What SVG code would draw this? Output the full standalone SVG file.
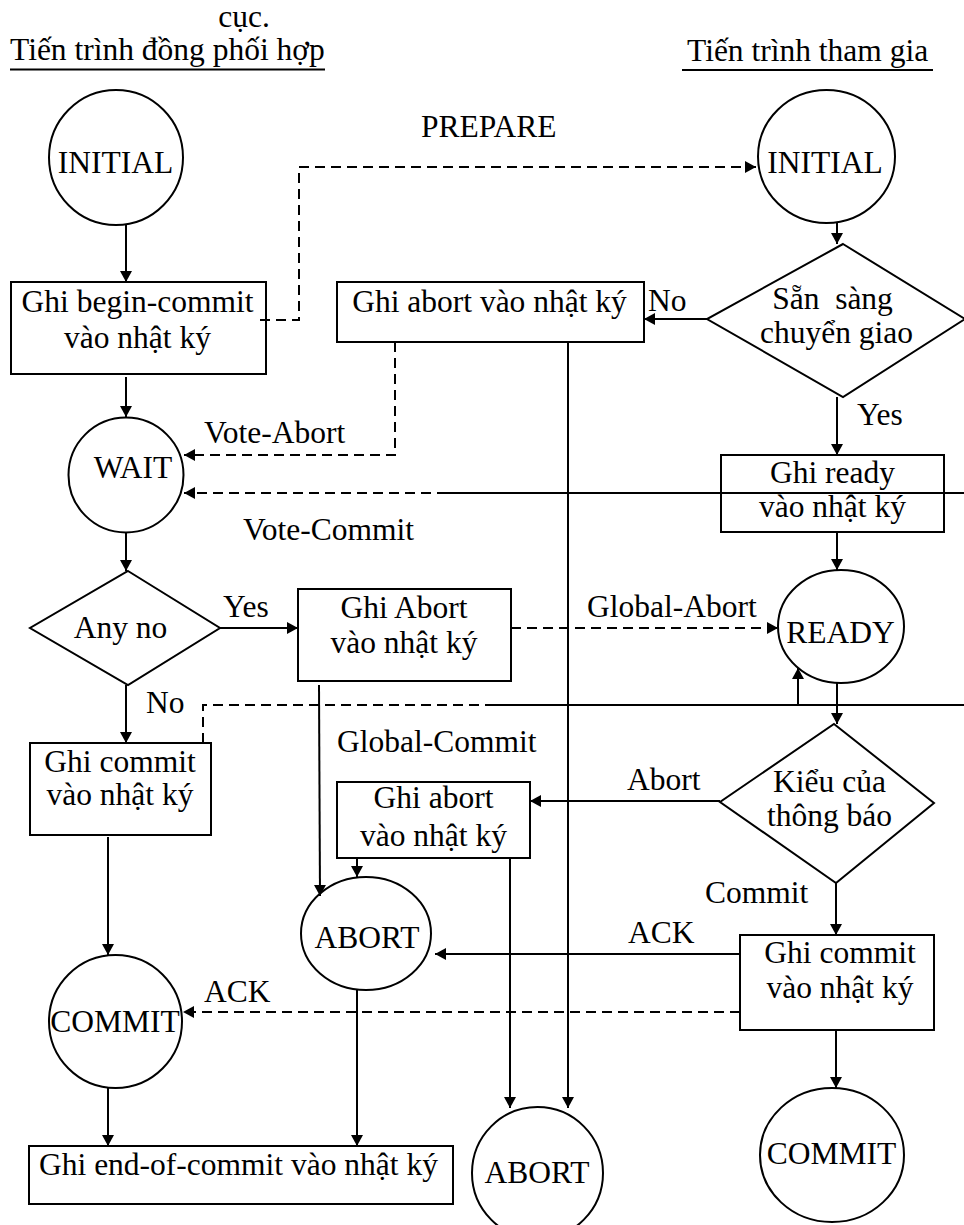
<svg xmlns="http://www.w3.org/2000/svg" width="964" height="1225" viewBox="0 0 964 1225">
  <style>
    text { font-family: "Liberation Serif", "Times New Roman", serif; font-size: 31.5px; fill: #000; }
    .c { text-anchor: middle; }
    .shape { fill: #fff; stroke: #000; stroke-width: 2; }
    .ln { fill: none; stroke: #000; stroke-width: 2; }
    .dash { fill: none; stroke: #000; stroke-width: 2; stroke-dasharray: 10 6; }
    .arr { marker-end: url(#head); }
  </style>
  <defs>
    <marker id="head" markerUnits="userSpaceOnUse" markerWidth="12" markerHeight="12" refX="11" refY="6" orient="auto">
      <path d="M0,0 L11,6 L0,12 z" fill="#000"/>
    </marker>
  </defs>
  <rect width="964" height="1225" fill="#fff"/>

  <!-- headings -->
  <g id="headings">
    <text class="c" x="244" y="27">cục.</text>
    <text x="10" y="60">Tiến trình đồng phối hợp</text>
    <line x1="10" y1="69.5" x2="325" y2="69.5" class="ln"/>
    <text x="687" y="61">Tiến trình tham gia</text>
    <line x1="682" y1="70" x2="933" y2="70" class="ln"/>
  </g>

  <!-- coordinator side -->
  <g id="coord-initial">
    <ellipse class="shape" cx="116" cy="157.5" rx="67" ry="67.5"/>
    <text class="c" x="115.5" y="173">INITIAL</text>
  </g>
  <g id="coord-begin">
    <rect class="shape" x="11" y="282" width="255" height="92"/>
    <text class="c" x="137.5" y="312">Ghi begin-commit</text>
    <text class="c" x="137.5" y="348">vào nhật ký</text>
  </g>
  <g id="coord-wait">
    <circle class="shape" cx="126" cy="475" r="57.5"/>
    <text class="c" x="133" y="478">WAIT</text>
  </g>
  <g id="coord-anyno">
    <polygon class="shape" points="128,571 220,628 128,685 30,628"/>
    <text class="c" x="120.5" y="638">Any no</text>
  </g>
  <g id="coord-write-abort">
    <rect class="shape" x="298" y="589" width="213" height="92"/>
    <text class="c" x="404" y="618">Ghi Abort</text>
    <text class="c" x="404" y="653">vào nhật ký</text>
  </g>
  <g id="coord-write-commit">
    <rect class="shape" x="30" y="743" width="181" height="92"/>
    <text class="c" x="120" y="772">Ghi commit</text>
    <text class="c" x="120" y="805">vào nhật ký</text>
  </g>
  <g id="coord-abort">
    <ellipse class="shape" cx="366" cy="933.5" rx="65" ry="56.5"/>
    <text class="c" x="367" y="948">ABORT</text>
  </g>
  <g id="coord-commit">
    <ellipse class="shape" cx="115.5" cy="1021.5" rx="66.5" ry="66.5"/>
    <text class="c" x="115" y="1032">COMMIT</text>
  </g>
  <g id="coord-end">
    <rect class="shape" x="29" y="1146" width="424" height="58"/>
    <text x="39" y="1175">Ghi end-of-commit vào nhật ký</text>
  </g>

  <!-- participant side -->
  <g id="part-initial">
    <ellipse class="shape" cx="826.5" cy="156.5" rx="68.5" ry="66.5"/>
    <text class="c" x="825" y="173">INITIAL</text>
  </g>
  <g id="part-ready-q">
    <polygon class="shape" points="843,244 965,319 843,397 707,319"/>
    <text class="c" x="832.5" y="309" xml:space="preserve">Sẵn  sàng</text>
    <text class="c" x="836.5" y="343">chuyển giao</text>
  </g>
  <g id="part-write-abort-top">
    <rect class="shape" x="337" y="282" width="307" height="60"/>
    <text class="c" x="489.5" y="312">Ghi abort vào nhật ký</text>
  </g>
  <g id="part-write-ready">
    <rect class="shape" x="721" y="455" width="223" height="77"/>
    <text class="c" x="832.5" y="483">Ghi ready</text>
    <text class="c" x="832.5" y="517">vào nhật ký</text>
  </g>
  <g id="part-ready">
    <ellipse class="shape" cx="841" cy="626.5" rx="63" ry="56.5"/>
    <text class="c" x="840.5" y="643">READY</text>
  </g>
  <g id="part-msg-type">
    <polygon class="shape" points="834,724 934,803 836,883 720,802"/>
    <text class="c" x="829.5" y="792">Kiểu của</text>
    <text class="c" x="829.5" y="826">thông báo</text>
  </g>
  <g id="part-write-abort">
    <rect class="shape" x="337" y="782" width="193" height="76"/>
    <text class="c" x="433.5" y="808">Ghi abort</text>
    <text class="c" x="433.5" y="846">vào nhật ký</text>
  </g>
  <g id="part-write-commit">
    <rect class="shape" x="740" y="935" width="194" height="95"/>
    <text class="c" x="840" y="963">Ghi commit</text>
    <text class="c" x="840" y="998">vào nhật ký</text>
  </g>
  <g id="part-abort">
    <ellipse class="shape" cx="537.5" cy="1173" rx="65.5" ry="66"/>
    <text class="c" x="537" y="1183">ABORT</text>
  </g>
  <g id="part-commit">
    <ellipse class="shape" cx="832" cy="1155" rx="72" ry="67"/>
    <text class="c" x="831.5" y="1164">COMMIT</text>
  </g>

  <!-- connectors -->
  <g id="connectors">
    <!-- coordinator flow -->
    <line class="ln arr" x1="126" y1="225" x2="126" y2="282"/>
    <line class="ln arr" x1="126" y1="377" x2="126" y2="417"/>
    <line class="ln arr" x1="126" y1="532" x2="126" y2="571"/>
    <line class="ln arr" x1="220" y1="628" x2="298" y2="628"/>
    <line class="ln arr" x1="126" y1="685" x2="126" y2="743"/>
    <line class="ln arr" x1="108" y1="837" x2="108" y2="955"/>
    <line class="ln arr" x1="108" y1="1088" x2="108" y2="1146"/>
    <line class="ln arr" x1="319" y1="685" x2="320" y2="896"/>
    <line class="ln arr" x1="357" y1="990" x2="357" y2="1146"/>

    <!-- participant flow -->
    <line class="ln arr" x1="837" y1="223" x2="837" y2="244"/>
    <line class="ln arr" x1="707" y1="319" x2="644" y2="319"/>
    <line class="ln arr" x1="837" y1="397" x2="837" y2="455"/>
    <line class="ln arr" x1="837" y1="532" x2="837" y2="570"/>
    <line class="ln arr" x1="837" y1="683" x2="837" y2="724"/>
    <line class="ln arr" x1="720" y1="801" x2="530" y2="801"/>
    <line class="ln arr" x1="836" y1="883" x2="836" y2="935"/>
    <line class="ln arr" x1="836" y1="1030" x2="836" y2="1088"/>
    <line class="ln arr" x1="357" y1="858" x2="357" y2="877"/>
    <line class="ln arr" x1="510" y1="858" x2="510" y2="1108"/>
    <line class="ln arr" x1="568" y1="342" x2="568" y2="1108"/>
    <line class="ln arr" x1="740" y1="954" x2="435" y2="954"/>
    <line class="ln arr" x1="798" y1="704" x2="798" y2="668"/>

    <!-- messages -->
    <polyline class="dash arr" points="260,320 299,320 299,167 756,167"/>
    <polyline class="dash arr" points="395,342 395,455 184,455"/>
    <line class="dash arr" x1="447" y1="493" x2="184" y2="493"/>
    <line class="ln" x1="447" y1="493" x2="964" y2="493"/>
    <line class="dash arr" x1="511" y1="628" x2="778" y2="628"/>
    <polyline class="dash" points="203,743 203,705 492,705"/>
    <line class="ln" x1="492" y1="705" x2="964" y2="705"/>
    <line class="dash arr" x1="740" y1="1012" x2="183" y2="1012"/>

    <!-- labels -->
    <text x="421" y="137">PREPARE</text>
    <text x="648" y="311">No</text>
    <text x="857" y="425">Yes</text>
    <text x="204" y="443">Vote-Abort</text>
    <text x="243" y="540">Vote-Commit</text>
    <text x="223" y="617">Yes</text>
    <text x="587" y="617">Global-Abort</text>
    <text x="146" y="713">No</text>
    <text x="337" y="752">Global-Commit</text>
    <text x="627" y="790">Abort</text>
    <text x="705" y="903">Commit</text>
    <text x="628" y="943">ACK</text>
    <text x="204" y="1002">ACK</text>
  </g>
</svg>
